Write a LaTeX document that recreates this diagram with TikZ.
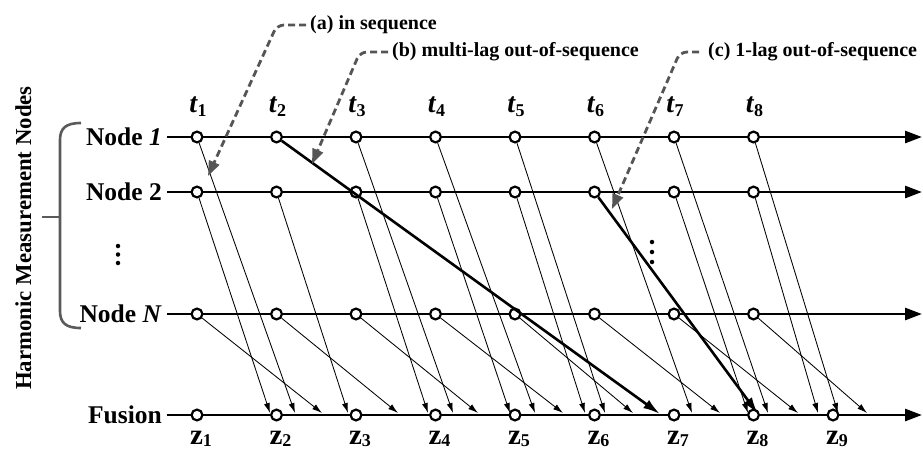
\documentclass[tikz,border=0pt]{standalone}
\usepackage{fontspec}
\setmainfont{Liberation Serif}
\usetikzlibrary{arrows.meta}
\definecolor{notegray}{RGB}{85,85,85}
\definecolor{bracegray}{RGB}{90,90,90}
\begin{document}
\begin{tikzpicture}[x=1pt,y=-1pt,
  axis/.style={line width=2.8pt,-{Triangle[length=17pt,width=12pt]}},
  tick/.style={circle,draw,line width=2.2pt,fill=white,minimum size=10.8pt,inner sep=0pt},
  feed/.style={line width=0.85pt,-{Latex[length=10pt,width=6pt]}},
  lagged/.style={line width=2.6pt,-{Latex[length=17pt,width=10pt]}},
  note/.style={draw=notegray,line width=2.8pt,dash pattern=on 7pt off 4pt,rounded corners=7pt,
    -{Triangle[length=15pt,width=11pt]}},
  rowlabel/.style={anchor=east,inner sep=0pt,font=\fontsize{25.5}{30}\selectfont\bfseries},
  notelabel/.style={anchor=west,inner sep=0pt,font=\fontsize{20}{24}\selectfont\bfseries},
  timelabel/.style={anchor=base,inner sep=0pt,font=\fontsize{28}{32}\selectfont\bfseries},
  fuselabel/.style={anchor=base,inner sep=0pt,font=\fontsize{29}{32}\selectfont\bfseries},
  dot/.style={circle,fill=black,inner sep=0pt,minimum size=4.5pt}
]
\useasboundingbox (0,0) rectangle (923,451);

% lane labels
\node[rowlabel] (lab1) at (162,137) {Node \textit{1}};
\node[rowlabel] (lab2) at (162,192) {Node 2};
\node[rowlabel] (labN) at (162,314) {Node \textit{N}};
\node[rowlabel] (labF) at (162,415) {Fusion};

% time axes
\coordinate (end1) at (922,137);
\coordinate (end2) at (922,192);
\coordinate (endN) at (922,314);
\coordinate (endF) at (922,415);
\draw[axis] ([xshift=5pt]lab1.east) -- (end1);
\draw[axis] ([xshift=5pt]lab2.east) -- (end2);
\draw[axis] ([xshift=5pt]labN.east) -- (endN);
\draw[axis] ([xshift=5pt]labF.east) -- (endF);

% sampling instants of the measurement nodes
\foreach \k in {1,...,8} {
  \node[tick] (a\k) at ({197+79.5*(\k-1)},137) {};
  \node[tick] (b\k) at ({197+79.5*(\k-1)},192) {};
  \node[tick] (n\k) at ({197+79.5*(\k-1)},314) {};
  \node[timelabel] (t\k) at ({198+79.5*(\k-1)},112)
    {\textit{t}\raisebox{-4pt}{\fontsize{18}{18}\selectfont\bfseries\k}};
}

% fusion instants
\foreach \k in {1,...,9} {
  \node[tick] (f\k) at ({197+79.5*(\k-1)},415) {};
  \node[fuselabel] (z\k) at ({201+79.5*(\k-1)},444)
    {z\raisebox{-2.5pt}{\fontsize{18}{18}\selectfont\bfseries\k}};
}

% measurements travelling to the fusion centre
\foreach \k/\e in {1/295,3/453,4/535,5/605,6/692,7/768,8/838} {
  \coordinate (ea\k) at (\e,413);
  \draw[feed] (a\k) -- (ea\k);
}
\foreach \k/\e in {1/270,2/348,3/428,4/510,5/585,7/748,8/818} {
  \coordinate (eb\k) at (\e,413);
  \draw[feed] (b\k) -- (eb\k);
}
\foreach \k/\e in {1/322,2/398,3/478,4/563,5/633,6/720,7/798,8/867} {
  \coordinate (en\k) at (\e,413);
  \draw[feed] (n\k) -- (en\k);
}

% delayed measurements
\coordinate (lagA) at (660,414);
\coordinate (lagB) at (758,414);
\draw[lagged] (a2) -- (lagA);
\draw[lagged] (b6) -- (lagB);

% vertical ellipses
\node[dot] (d1) at (118,246) {};
\node[dot] (d2) at (118,254.5) {};
\node[dot] (d3) at (118,263) {};
\node[dot] (d4) at (652,242) {};
\node[dot] (d5) at (652,252) {};
\node[dot] (d6) at (652,262) {};

% group brace and title
\draw[bracegray,line width=2.6pt]
  (81,123) .. controls (66,123) and (60,128) .. (60,140) -- (60,311)
  .. controls (60,323) and (66,328) .. (81,328);
\draw[bracegray,line width=2.6pt] (60,217) -- (42,217);
\node[rotate=90,anchor=base,inner sep=0pt,font=\fontsize{22.8}{26}\selectfont\bfseries]
  (title) at (31,238) {Harmonic Measurement Nodes};

% annotations
\node[notelabel] (noteA) at (310,25) {(a) in sequence};
\node[notelabel] (noteB) at (392,52) {(b) multi-lag out-of-sequence};
\node[notelabel] (noteC) at (708,52) {(c) 1-lag out-of-sequence};
\coordinate (tipA) at (208,176);
\coordinate (tipB) at (312,164);
\coordinate (tipC) at (612,209);
\draw[note] ([xshift=-4pt]noteA.west) -- (277,25) -- (tipA);
\draw[note] ([xshift=-4pt]noteB.west) -- (360,52) -- (tipB);
\draw[note] ([xshift=-9pt]noteC.west) -- (680,52) -- (tipC);
\end{tikzpicture}
\end{document}
